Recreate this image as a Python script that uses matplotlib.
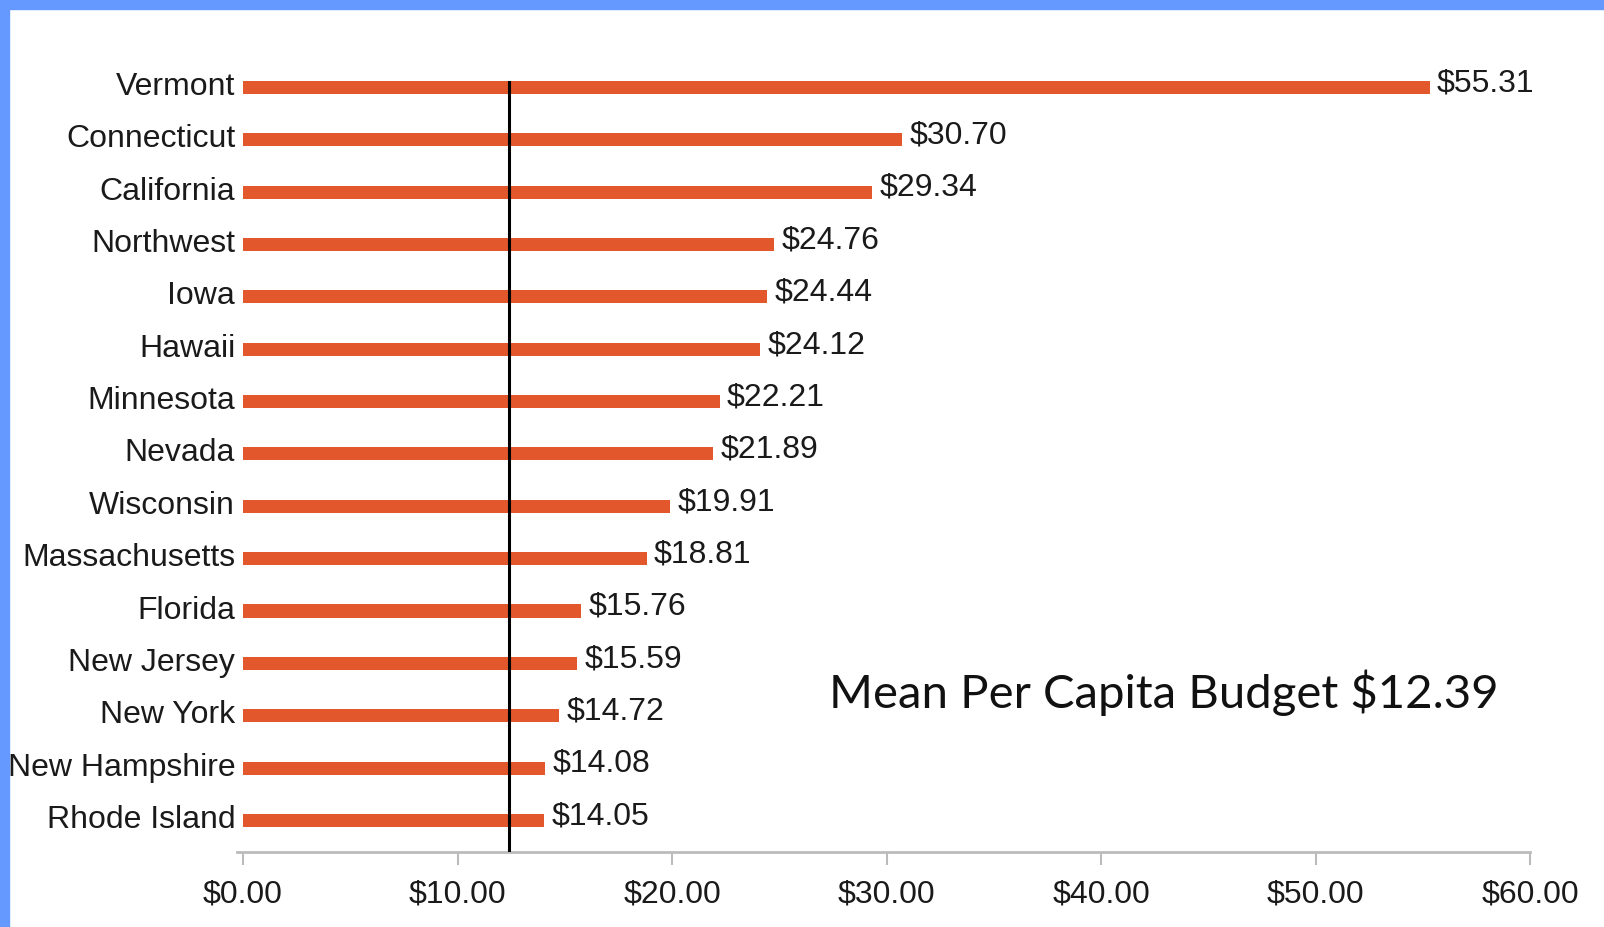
import matplotlib
matplotlib.use("Agg")
import matplotlib.pyplot as plt
import matplotlib.transforms as mtransforms
from matplotlib import font_manager
from matplotlib.patches import Rectangle

states = [
    'Vermont', 'Connecticut', 'California', 'Northwest', 'Iowa',
    'Hawaii', 'Minnesota', 'Nevada', 'Wisconsin', 'Massachusetts',
    'Florida', 'New Jersey', 'New York', 'New Hampshire', 'Rhode Island'
]
budget = [
    55.31, 30.70, 29.34, 24.76, 24.44,
    24.12, 22.21, 21.89, 19.91, 18.81,
    15.76, 15.59, 14.72, 14.08, 14.05
]
mean_budget = 12.39
x_ticks = [0, 10, 20, 30, 40, 50, 60]

names = {f.name for f in font_manager.fontManager.ttflist}
if 'Liberation Sans Narrow' in names:
    label_font = 'Liberation Sans Narrow'
    fs = 28
else:
    label_font = 'Liberation Sans'
    fs = 23

bar_color = '#E2572B'
frame_blue = '#6699FF'

fig = plt.figure(figsize=(16.04, 9.27), dpi=100)
ax = fig.add_axes([0.1475, 0.081, 0.8065, 0.8586])

ypos = list(range(len(states)))
ax.barh(ypos, budget, height=0.25, color=bar_color, zorder=2)

for y, v in zip(ypos, budget):
    ax.text(v + 0.35, y - 0.08, f'${v:.2f}', ha='left', va='center',
            fontsize=fs, family=label_font, color='#1a1a1a')

ax.axvline(mean_budget, ymin=0.0, ymax=0.967, color='black', lw=2.2, zorder=3)

ax.set_xlim(-0.3, 60)
ax.set_ylim(14.6, -0.6)

ax.set_yticks(ypos)
ax.set_yticklabels(states, fontsize=fs, family=label_font, color='#1a1a1a')
ax.tick_params(axis='y', length=0, pad=1)
shift_up = mtransforms.ScaledTranslation(0, 4 / 100, fig.dpi_scale_trans)
for lbl in ax.get_yticklabels():
    lbl.set_transform(lbl.get_transform() + shift_up)

ax.set_xticks(x_ticks)
ax.set_xticklabels([f'${t:.2f}' for t in x_ticks], fontsize=fs,
                   family=label_font, color='#1a1a1a')
ax.tick_params(axis='x', length=9, width=1.5, color='#BBBBBB', pad=11)

for side in ['top', 'right', 'left']:
    ax.spines[side].set_visible(False)
ax.spines['bottom'].set_color('#BBBBBB')
ax.spines['bottom'].set_linewidth(2)

fig.text(0.7255, 0.236, f'Mean Per Capita Budget ${mean_budget:.2f}',
         ha='center', va='baseline', fontsize=34, family='Lato', color='#111111')

fig.patches.append(Rectangle((0, 1 - 9 / 927), 1, 9 / 927, transform=fig.transFigure,
                             color=frame_blue, zorder=10))
fig.patches.append(Rectangle((0, 0), 9 / 1604, 1, transform=fig.transFigure,
                             color=frame_blue, zorder=10))

fig.savefig('out.png', dpi=100)
